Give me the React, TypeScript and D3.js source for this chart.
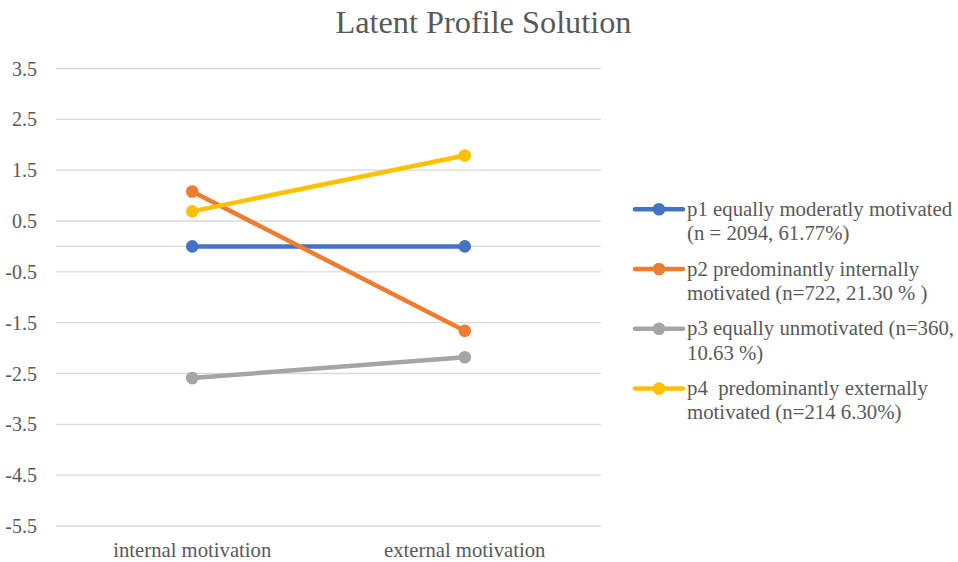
import React from "react";
import * as d3 from "d3";

const categories = ["internal motivation", "external motivation"];
const seriesNames = ["p1", "p2", "p3", "p4"];
const p1Values = [0.0, 0.0];
const p2Values = [1.08, -1.66];
const p3Values = [-2.59, -2.18];
const p4Values = [0.69, 1.79];
const legendLines = [
  ["p1 equally moderatly motivated", "(n = 2094, 61.77%)"],
  ["p2 predominantly internally", "motivated (n=722, 21.30 % )"],
  ["p3 equally unmotivated (n=360,", "10.63 %)"],
  ["p4  predominantly externally", "motivated (n=214 6.30%)"],
];
const yTicks = [3.5, 2.5, 1.5, 0.5, -0.5, -1.5, -2.5, -3.5, -4.5, -5.5];
const colors = ["#4472C4", "#ED7D31", "#A5A5A5", "#FFC000"];
const title = "Latent Profile Solution";

export default function App() {
  const W = 958, H = 562;
  const left = 56, right = 601, top = 68.5, bottom = 526;
  const font = "'Liberation Serif', 'Times New Roman', serif";
  const textColor = "#595959";
  const x = d3.scaleBand().domain(categories).range([left, right]);
  const y = d3.scaleLinear().domain([-5.5, 3.5]).range([bottom, top]);
  const series = [p1Values, p2Values, p3Values, p4Values];
  const line = d3
    .line<number>()
    .x((_, i) => (x(categories[i]) as number) + x.bandwidth() / 2)
    .y((d) => y(d));

  return (
    <svg
      width={W}
      height={H}
      style={{ position: "absolute", left: 0, top: 0, background: "#fff" }}
      fontFamily={font}
    >
      <rect x={0} y={0} width={W} height={H} fill="#fff" />
      <text x={483.5} y={33} textAnchor="middle" fontSize={32.3} fill={textColor}>
        {title}
      </text>
      {yTicks.map((t) => (
        <g key={t}>
          <line x1={left} x2={right} y1={y(t)} y2={y(t)} stroke="#D9D9D9" strokeWidth={1.3} />
          <text x={37} y={y(t)} dy="0.35em" textAnchor="end" fontSize={20} fill={textColor}>
            {t.toFixed(1)}
          </text>
        </g>
      ))}
      <line x1={left} x2={right} y1={y(0)} y2={y(0)} stroke="#D9D9D9" strokeWidth={1.3} />
      {categories.map((c) => (
        <text
          key={c}
          x={(x(c) as number) + x.bandwidth() / 2}
          y={557}
          textAnchor="middle"
          fontSize={20.7}
          fill={textColor}
        >
          {c}
        </text>
      ))}
      {series.map((vals, si) => (
        <g key={seriesNames[si]}>
          <path d={line(vals) || ""} fill="none" stroke={colors[si]} strokeWidth={4.5} strokeLinecap="round" />
          {vals.map((v, i) => (
            <circle
              key={i}
              cx={(x(categories[i]) as number) + x.bandwidth() / 2}
              cy={y(v)}
              r={6.3}
              fill={colors[si]}
            />
          ))}
        </g>
      ))}
      {legendLines.map((lines, i) => {
        const base = 215.7 + i * 59.8;
        const my = base - 6.5;
        return (
          <g key={i}>
            <line x1={635} x2={683} y1={my} y2={my} stroke={colors[i]} strokeWidth={4.5} strokeLinecap="round" />
            <circle cx={659} cy={my} r={6.3} fill={colors[i]} />
            {lines.map((l, j) => (
              <text
                key={j}
                x={687}
                y={base + j * 24.3}
                fontSize={20.8}
                fill={textColor}
                style={{ whiteSpace: "pre" }}
              >
                {l}
              </text>
            ))}
          </g>
        );
      })}
    </svg>
  );
}
